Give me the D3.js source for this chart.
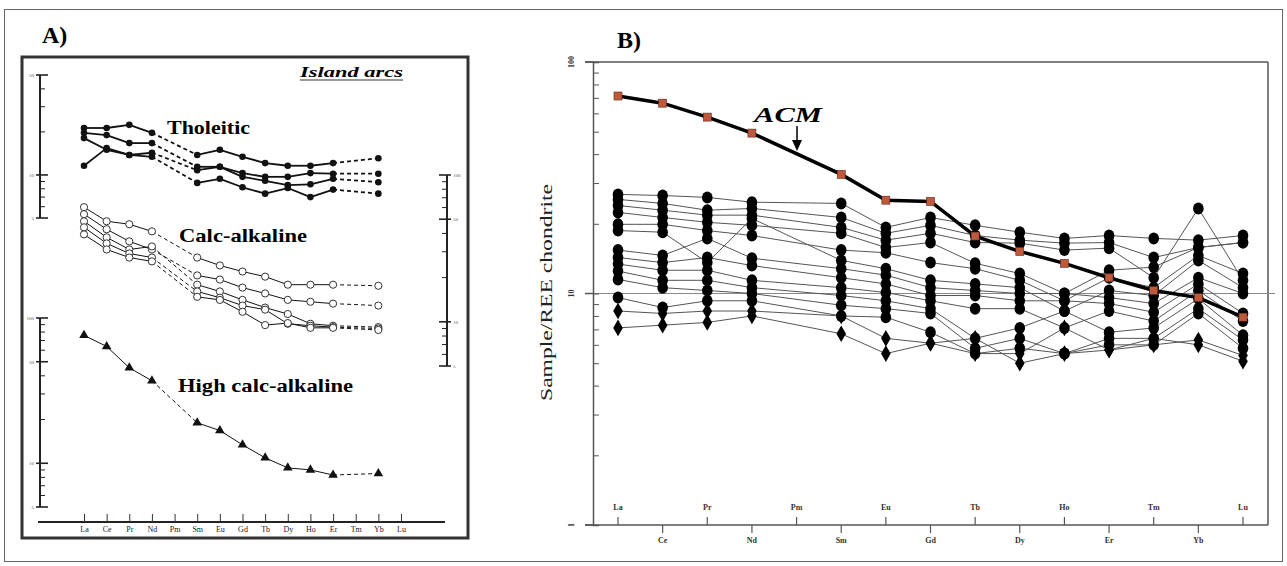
<!DOCTYPE html>
<html>
<head>
<meta charset="utf-8">
<script src="https://cdn.jsdelivr.net/npm/d3@7"></script>
<style>
  body { margin: 0; background: #fff; }
  text { font-family: "Liberation Serif", "Times New Roman", serif; }
</style>
</head>
<body>
<div id="chart"></div>
<script>
// REE order used on both x axes
const ree = ["La","Ce","Pr","Nd","Pm","Sm","Eu","Gd","Tb","Dy","Ho","Er","Tm","Yb","Lu"];

// Panel A - island arc patterns (Pm and Tm not analysed)
const elemsA = ["La","Ce","Pr","Nd","Sm","Eu","Gd","Tb","Dy","Ho","Er","Yb"];
const tholeiitic = [
  [21.3, 21.3, 22.4, 19.7, 13.8, 15.0, 13.4, 12.1, 11.6, 11.6, 12.1, 13.1],
  [19.7, 19.0, 16.7, 16.7, 11.4, 11.4, 10.3, 9.7, 9.7, 10.3, 10.2, 10.2],
  [18.1, 15.0, 13.8, 14.3, 10.8, 11.4, 9.7, 9.1, 8.5, 8.6, 9.4, 8.9],
  [11.6, 15.4, 13.8, 13.4, 8.8, 9.4, 8.2, 7.4, 8.1, 7.0, 7.9, 7.4]
];
const calcAlkaline = [
  [60.4, 48.4, 46.2, 41.3, 27.4, 24.2, 22.0, 20.3, 17.9, 17.9, 17.9, 17.6],
  [54.1, 42.7, 35.3, 31.1, 20.7, 19.4, 17.1, 15.6, 14.1, 13.7, 13.3, 12.9],
  [48.4, 37.6, 31.1, 32.6, 17.9, 16.1, 14.1, 12.5, 11.3, 9.7, 9.4, 9.2],
  [44.0, 34.2, 29.2, 27.4, 16.1, 14.6, 12.9, 12.1, 9.7, 9.4, 9.2, 9.0],
  [39.4, 31.1, 27.4, 25.8, 14.8, 14.1, 11.7, 9.5, 9.8, 9.1, 9.1, 8.8]
];
const highCalcAlkaline = [76.0, 63.7, 45.4, 37.0, 19.0, 16.8, 13.4, 10.9, 9.3, 9.0, 8.3, 8.5];

// Panel B - samples and ACM reference (Sample/REE chondrite)
const elemsB = ["La","Ce","Pr","Nd","Sm","Eu","Gd","Tb","Dy","Ho","Er","Tm","Yb","Lu"];
const samples = [
  [26.8, 26.5, 26.0, 24.8, 24.5, 19.3, 21.3, 19.7, 18.4, 17.3, 17.8, 17.3, 17.0, 17.8],
  [25.5, 24.5, 22.9, 23.3, 21.3, 18.2, 19.7, 17.8, 17.0, 16.5, 16.6, 14.3, 15.8, 16.6],
  [24.0, 22.9, 21.8, 21.8, 19.3, 17.0, 18.2, 16.6, 16.5, 15.4, 15.7, 11.7, 23.3, 11.4],
  [22.4, 21.3, 20.3, 19.7, 18.2, 15.8, 16.6, 13.5, 12.2, 10.0, 12.6, 13.0, 15.8, 16.6],
  [19.9, 19.9, 18.7, 17.8, 15.4, 15.0, 13.6, 12.8, 11.4, 9.3, 11.7, 10.6, 14.6, 12.2],
  [18.7, 18.4, 13.6, 21.1, 13.9, 12.8, 11.4, 11.0, 10.6, 8.4, 10.3, 9.8, 13.9, 10.6],
  [15.4, 14.6, 17.3, 14.2, 12.8, 12.0, 10.6, 10.3, 10.0, 10.0, 9.6, 9.05, 11.7, 10.0],
  [14.3, 13.6, 14.3, 13.2, 11.7, 11.0, 9.8, 9.8, 9.3, 9.3, 9.05, 8.3, 11.0, 8.2],
  [13.4, 12.6, 12.6, 11.4, 10.6, 10.1, 9.3, 8.6, 8.6, 7.1, 8.4, 7.6, 10.3, 7.6],
  [12.5, 11.4, 11.4, 10.6, 9.8, 9.3, 8.6, 6.4, 7.1, 8.4, 6.8, 7.1, 9.5, 6.6],
  [11.5, 10.6, 10.3, 10.0, 8.9, 8.6, 8.2, 5.8, 6.4, 5.5, 6.4, 6.4, 8.6, 6.3],
  [9.6, 8.7, 9.3, 9.3, 8.0, 7.9, 6.8, 5.5, 5.8, 5.5, 6.0, 6.0, 8.2, 5.8],
  [8.4, 8.2, 8.4, 8.4, 8.0, 6.4, 6.1, 5.5, 5.5, 7.1, 5.7, 6.0, 6.3, 5.4],
  [7.1, 7.3, 7.5, 8.0, 6.7, 5.5, 6.1, 6.4, 5.0, 5.5, 5.7, 6.4, 6.0, 5.1]
];
const acm = [71.3, 66.4, 57.8, 49.3, 32.7, 25.3, 25.0, 17.7, 15.2, 13.5, 11.7, 10.3, 9.6, 7.9];

const W = 1287, H = 566;
const svg = d3.select("#chart").append("svg")
  .attr("width", W).attr("height", H);

svg.append("rect").attr("width", W).attr("height", H).attr("fill", "#fff");
svg.append("rect").attr("x", 4.5).attr("y", 9.5).attr("width", 1278).attr("height", 552)
  .attr("fill", "none").attr("stroke", "#666").attr("stroke-width", 1);

// ---------- Panel A ----------
const gA = svg.append("g");
const xA = d3.scalePoint().domain(ree).range([84, 401]);
const yTh = d3.scaleLog().domain([5, 50]).range([218, 75]);
const yCa = d3.scaleLog().domain([5, 100]).range([366, 175]);
const yHi = d3.scaleLog().domain([5, 100]).range([507, 318]);

gA.append("text").attr("x", 42).attr("y", 43).attr("font-size", 24).attr("font-weight", "bold").text("A)");
gA.append("rect").attr("x", 22).attr("y", 57).attr("width", 446).attr("height", 481)
  .attr("fill", "none").attr("stroke", "#333").attr("stroke-width", 3);

function miniAxis(scale, x, side, labels) {
  const g = gA.append("g").attr("stroke", "#222");
  const [lo, hi] = scale.domain();
  g.append("line").attr("x1", x).attr("x2", x).attr("y1", scale(lo)).attr("y2", scale(hi)).attr("stroke-width", 2);
  scale.ticks().forEach(t => {
    const major = labels.includes(t);
    g.append("line").attr("x1", major ? x - side * 4 : x).attr("x2", x + side * (major ? 8 : 5))
      .attr("y1", scale(t)).attr("y2", scale(t)).attr("stroke-width", major ? 1.6 : 1);
  });
  labels.forEach(t => {
    gA.append("text").attr("x", x - side * 6).attr("y", scale(t) + 2)
      .attr("text-anchor", side > 0 ? "end" : "start").attr("font-size", 5).attr("fill", "#555").text(t);
  });
}
miniAxis(yTh, 40, 1, [5, 10, 50]);
miniAxis(yCa, 447, -1, [5, 10, 50, 100]);
miniAxis(yHi, 40, 1, [5, 10, 50, 100]);

// x axis of panel A
gA.append("line").attr("x1", 38).attr("x2", 445).attr("y1", 522).attr("y2", 522)
  .attr("stroke", "#222").attr("stroke-width", 2);
const axA = gA.append("g").attr("transform", "translate(0,522)")
  .call(d3.axisBottom(xA).tickSize(-8).tickPadding(4));
axA.select(".domain").remove();
axA.selectAll("line").attr("stroke", "#333");
axA.selectAll("text").attr("font-size", 8).attr("font-family", "Liberation Serif, serif").attr("fill", "#222");

function patternLines(rows, y, sw) {
  rows.forEach(row => {
    for (let i = 1; i < row.length; i++) {
      const a = elemsA[i - 1], b = elemsA[i];
      const gap = ree.indexOf(b) - ree.indexOf(a) > 1;
      gA.append("line")
        .attr("x1", xA(a)).attr("y1", y(row[i - 1]))
        .attr("x2", xA(b)).attr("y2", y(row[i]))
        .attr("stroke", "#111").attr("stroke-width", sw)
        .attr("stroke-dasharray", gap ? "4,3" : null);
    }
  });
}
patternLines(tholeiitic, yTh, 1.8);
patternLines(calcAlkaline, yCa, 1);
patternLines([highCalcAlkaline], yHi, 1);

tholeiitic.forEach(row => {
  gA.selectAll(null).data(row).enter().append("circle")
    .attr("cx", (d, i) => xA(elemsA[i])).attr("cy", d => yTh(d)).attr("r", 3.3).attr("fill", "#111");
});
calcAlkaline.forEach(row => {
  gA.selectAll(null).data(row).enter().append("circle")
    .attr("cx", (d, i) => xA(elemsA[i])).attr("cy", d => yCa(d)).attr("r", 3.6)
    .attr("fill", "#fff").attr("stroke", "#333").attr("stroke-width", 1);
});
gA.selectAll(null).data(highCalcAlkaline).enter().append("path")
  .attr("d", d3.symbol(d3.symbolTriangle, 40))
  .attr("transform", (d, i) => `translate(${xA(elemsA[i])},${yHi(d)})`)
  .attr("fill", "#111");

gA.append("text").attr("x", 300).attr("y", 77).attr("font-size", 15).attr("font-weight", "bold")
  .attr("font-style", "italic").attr("textLength", 103).attr("lengthAdjust", "spacingAndGlyphs").text("Island arcs");
gA.append("line").attr("x1", 300).attr("x2", 403).attr("y1", 80).attr("y2", 80).attr("stroke", "#333").attr("stroke-width", 1);
gA.append("text").attr("x", 167).attr("y", 134).attr("font-size", 19).attr("font-weight", "bold")
  .attr("textLength", 83).attr("lengthAdjust", "spacingAndGlyphs").text("Tholeitic");
gA.append("text").attr("x", 179).attr("y", 242).attr("font-size", 19).attr("font-weight", "bold")
  .attr("textLength", 128).attr("lengthAdjust", "spacingAndGlyphs").text("Calc-alkaline");
gA.append("text").attr("x", 178).attr("y", 392).attr("font-size", 19).attr("font-weight", "bold")
  .attr("textLength", 175).attr("lengthAdjust", "spacingAndGlyphs").text("High calc-alkaline");

// ---------- Panel B ----------
const gB = svg.append("g");
const xB = d3.scalePoint().domain(ree).range([618, 1243]);
const yB = d3.scaleLog().domain([1, 100]).range([525, 62]);
const left = 593, right = 1268;

gB.append("text").attr("x", 617).attr("y", 48).attr("font-size", 24).attr("font-weight", "bold").text("B)");

// frame
gB.append("line").attr("x1", 585).attr("x2", right).attr("y1", yB(100)).attr("y2", yB(100)).attr("stroke", "#555").attr("stroke-width", 1.5);
gB.append("line").attr("x1", right).attr("x2", right).attr("y1", yB(100)).attr("y2", yB(1)).attr("stroke", "#555").attr("stroke-width", 1.5);
gB.append("line").attr("x1", 585).attr("x2", 1275).attr("y1", yB(10)).attr("y2", yB(10)).attr("stroke", "#888").attr("stroke-width", 1);

// y axis
const axY = gB.append("g").attr("transform", `translate(${left},0)`)
  .call(d3.axisRight(yB).tickSize(6).tickFormat(""));
axY.select(".domain").attr("stroke", "#555").attr("stroke-width", 1.5);
axY.selectAll(".tick line").attr("stroke", "#555");
[1, 10, 100].forEach(t => {
  gB.append("line").attr("x1", 585).attr("x2", left).attr("y1", yB(t)).attr("y2", yB(t)).attr("stroke", "#555").attr("stroke-width", 1.5);
  gB.append("text").attr("transform", `translate(574,${yB(t)}) rotate(-90)`)
    .attr("text-anchor", "middle").attr("font-size", 8).attr("font-weight", "bold")
    .attr("font-family", "Liberation Sans, sans-serif").attr("fill", "#333").text(t);
});
gB.append("text").attr("transform", `translate(552,${yB(10) - 1}) rotate(-90)`)
  .attr("text-anchor", "middle").attr("font-size", 17).attr("fill", "#222")
  .attr("textLength", 217).attr("lengthAdjust", "spacingAndGlyphs").text("Sample/REE chondrite");

// x axis with staggered labels
gB.append("line").attr("x1", 585).attr("x2", right).attr("y1", yB(1)).attr("y2", yB(1)).attr("stroke", "#555").attr("stroke-width", 1.5);
ree.forEach((e, i) => {
  const up = i % 2 === 0;
  gB.append("line").attr("x1", xB(e)).attr("x2", xB(e))
    .attr("y1", yB(1)).attr("y2", yB(1) + (up ? -8 : 8)).attr("stroke", "#555").attr("stroke-width", 1.2);
  gB.append("text").attr("x", xB(e)).attr("y", up ? yB(1) - 15 : yB(1) + 18)
    .attr("text-anchor", "middle").attr("font-size", 8).attr("font-weight", "bold")
    .attr("font-family", "Liberation Sans, sans-serif").attr("fill", "#333").text(e);
});

// sample patterns
const lineB = d3.line().x((d, i) => xB(elemsB[i])).y(d => yB(d));
gB.selectAll(".sample").data(samples).enter().append("path")
  .attr("class", "sample").attr("d", lineB)
  .attr("fill", "none").attr("stroke", "#555").attr("stroke-width", 1);
samples.forEach((row, k) => {
  const diamond = k >= samples.length - 2;
  if (diamond) {
    gB.selectAll(null).data(row).enter().append("path")
      .attr("d", d3.symbol(d3.symbolDiamond, 80))
      .attr("transform", (d, i) => `translate(${xB(elemsB[i])},${yB(d)})`)
      .attr("fill", "#000");
  } else {
    gB.selectAll(null).data(row).enter().append("ellipse")
      .attr("cx", (d, i) => xB(elemsB[i])).attr("cy", d => yB(d))
      .attr("rx", 5.3).attr("ry", 6).attr("fill", "#000");
  }
});

// ACM
gB.append("path").datum(acm).attr("d", lineB)
  .attr("fill", "none").attr("stroke", "#000").attr("stroke-width", 3.5);
gB.selectAll(".acm").data(acm).enter().append("rect").attr("class", "acm")
  .attr("x", (d, i) => xB(elemsB[i]) - 4).attr("y", d => yB(d) - 4)
  .attr("width", 8).attr("height", 8)
  .attr("fill", "#c0583c").attr("stroke", "#5a2a1c").attr("stroke-width", 0.6);

gB.append("text").attr("x", 754).attr("y", 122).attr("font-size", 22).attr("font-weight", "bold")
  .attr("font-style", "italic").attr("textLength", 68).attr("lengthAdjust", "spacingAndGlyphs").text("ACM");
gB.append("line").attr("x1", 797).attr("x2", 797).attr("y1", 126).attr("y2", 146).attr("stroke", "#000").attr("stroke-width", 1.5);
gB.append("path").attr("d", "M792,140 L797,151 L802,140 Z").attr("fill", "#000");
</script>
</body>
</html>
